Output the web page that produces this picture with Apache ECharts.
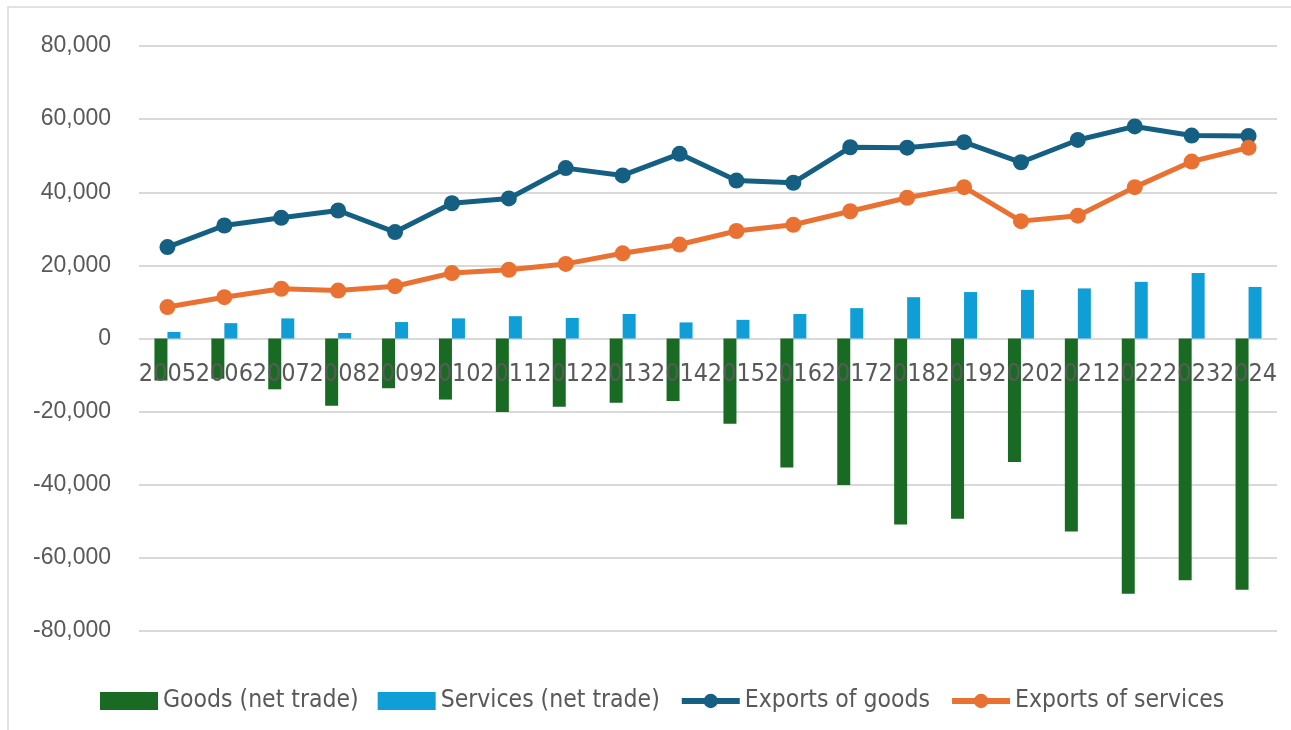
<!DOCTYPE html>
<html>
<head>
<meta charset="utf-8">
<title>Net trade and exports</title>
<script src="https://cdn.jsdelivr.net/npm/echarts@6/dist/echarts.min.js"></script>
<style>
  html, body { margin: 0; padding: 0; background: #fff; }
  #chart { width: 1291px; height: 730px; }
</style>
</head>
<body>
<div id="chart"></div>
<script>
// categories and series
const years = ['2005', '2006', '2007', '2008', '2009', '2010', '2011', '2012', '2013', '2014',
  '2015', '2016', '2017', '2018', '2019', '2020', '2021', '2022', '2023', '2024'];

const goodsNet = [-11500, -11000, -13900, -18400, -13600, -16700, -20100, -18700, -17600, -17100,
  -23300, -35300, -40100, -50900, -49300, -33800, -52800, -69800, -66100, -68700];

const servicesNet = [1800, 4200, 5500, 1500, 4500, 5500, 6100, 5600, 6700, 4400,
  5100, 6700, 8300, 11300, 12700, 13300, 13700, 15500, 17900, 14100];

const exportsGoods = [25000, 30900, 33000, 35000, 29100, 37000, 38300, 46600, 44600, 50500,
  43200, 42600, 52300, 52200, 53700, 48200, 54300, 58000, 55500, 55400];

const exportsServices = [8600, 11300, 13600, 13100, 14300, 17900, 18800, 20400, 23300, 25700,
  29400, 31100, 34800, 38500, 41400, 32100, 33600, 41400, 48400, 52200];

const yTicks = { min: -80000, max: 80000, step: 20000 };

const myChart = echarts.init(document.getElementById('chart'));

const textGrey = '#595959';
const narrow = '"DejaVu Sans Condensed", "Liberation Sans Narrow", "Liberation Sans", sans-serif';

// grid box; the category axis sits on the zero line, halfway down
const gridTop = 46;
const gridBottom = 99;
const plotHeight = 730 - gridTop - gridBottom;

const option = {
  animation: false,
  backgroundColor: '#fff',
  graphic: [
    {
      type: 'rect',
      shape: { x: 8, y: 7, width: 1300, height: 740 },
      style: { fill: 'none', stroke: '#d9d9d9', lineWidth: 1.5 },
      silent: true
    }
  ],
  grid: { left: 139, right: 14, top: gridTop, bottom: gridBottom },
  legend: {
    left: 95,
    top: 681,
    width: 1180,
    itemWidth: 58,
    itemHeight: 18,
    itemGap: 19,
    textStyle: { color: textGrey, fontFamily: narrow, fontSize: 24.5, lineHeight: 30 },
    data: [
      { name: 'Goods (net trade)', icon: 'rect' },
      { name: 'Services (net trade)', icon: 'rect' },
      { name: 'Exports of goods', lineStyle: { width: 6 } },
      { name: 'Exports of services', lineStyle: { width: 6 } }
    ]
  },
  xAxis: {
    type: 'category',
    data: years,
    boundaryGap: true,
    offset: -plotHeight / 2,
    z: 4, // labels are drawn over the bars, as in the original
    axisLine: { show: false, onZero: false },
    axisTick: { show: false },
    axisLabel: {
      interval: 0,
      margin: 23,
      color: textGrey,
      fontFamily: narrow,
      fontSize: 25,
      hideOverlap: false
    }
  },
  yAxis: {
    type: 'value',
    min: yTicks.min,
    max: yTicks.max,
    interval: yTicks.step,
    axisLine: { show: false },
    axisTick: { show: false },
    splitLine: { lineStyle: { color: '#d9d9d9', width: 2 } },
    axisLabel: {
      margin: 28,
      color: textGrey,
      fontFamily: '"Liberation Sans", Arial, sans-serif',
      fontSize: 23,
      formatter: (v) => v.toLocaleString('en-US')
    }
  },
  series: [
    {
      name: 'Goods (net trade)',
      type: 'bar',
      data: goodsNet,
      barWidth: 13,
      barGap: '0%',
      itemStyle: { color: '#196B24' }
    },
    {
      name: 'Services (net trade)',
      type: 'bar',
      data: servicesNet,
      barWidth: 13,
      barGap: '0%',
      itemStyle: { color: '#0F9ED5' }
    },
    {
      name: 'Exports of goods',
      type: 'line',
      data: exportsGoods,
      symbol: 'circle',
      symbolSize: 16,
      lineStyle: { color: '#156082', width: 5 },
      itemStyle: { color: '#156082' },
      z: 5
    },
    {
      name: 'Exports of services',
      type: 'line',
      data: exportsServices,
      symbol: 'circle',
      symbolSize: 16,
      lineStyle: { color: '#E97132', width: 5 },
      itemStyle: { color: '#E97132' },
      z: 5
    }
  ]
};

myChart.setOption(option);
</script>
</body>
</html>
